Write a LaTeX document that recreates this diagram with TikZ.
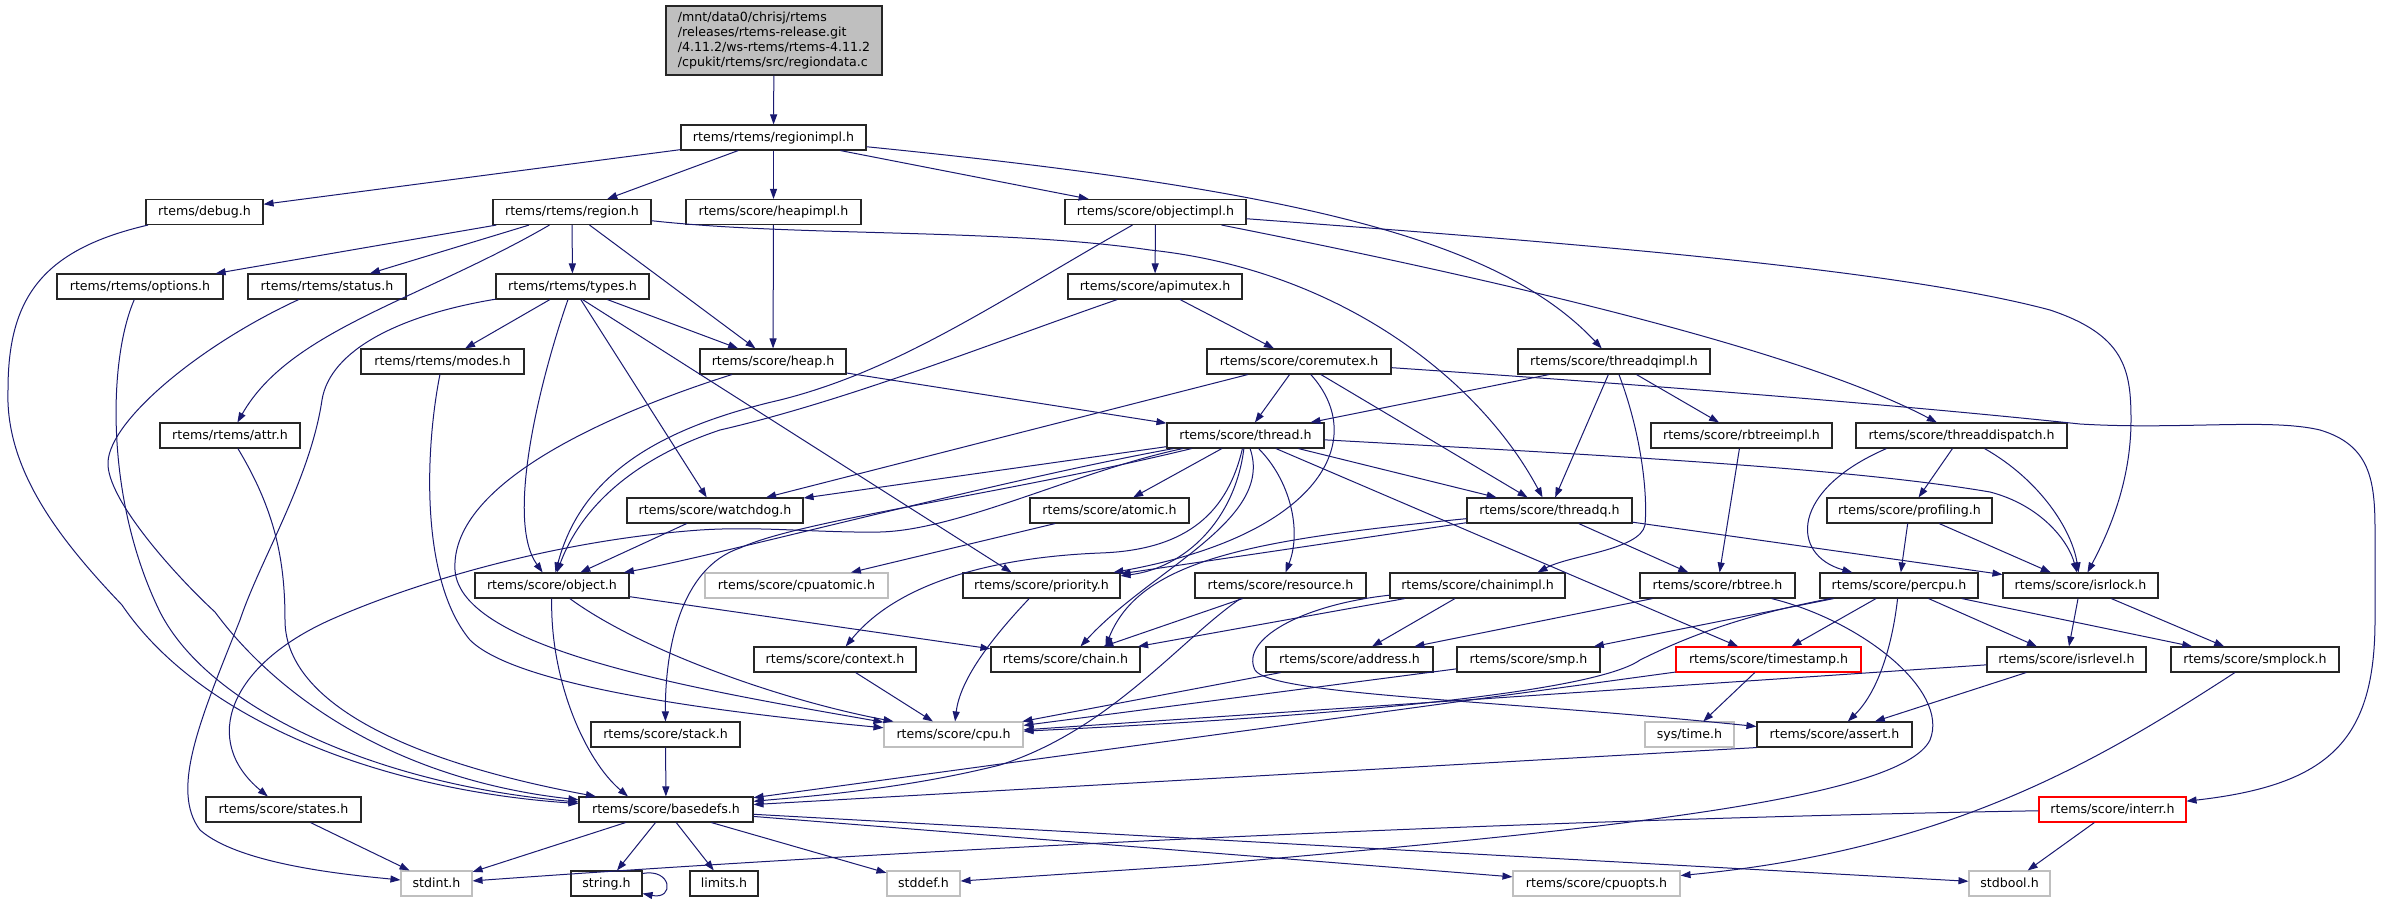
\documentclass[tikz,border=0pt]{standalone}
\usepackage{fontspec}
\newfontfamily\dvs{DejaVu Sans}
\usetikzlibrary{arrows.meta}
\definecolor{edgeblue}{HTML}{191970}
\definecolor{lgray}{HTML}{BFBFBF}
\begin{document}
\begin{tikzpicture}[x=1pt,y=-1pt,
  nd/.style={draw=black!85, line width=1.1pt, fill=white, inner sep=0pt, minimum height=25pt,
    text height=9.6pt, text depth=2.6pt, font=\dvs\fontsize{12.6pt}{14.7pt}\selectfont},
  sysnd/.style={nd, draw=lgray},
  rednd/.style={nd, draw=red},
  topnd/.style={draw=black!85, line width=1.1pt, fill=lgray, inner sep=0pt, align=left,
    font=\dvs\fontsize{12.6pt}{14.7pt}\selectfont},
  dep/.style={draw=edgeblue, line width=1pt, -{Triangle[length=10pt,width=7pt]}}]
\useasboundingbox (0,0) rectangle (2382,903);
\fill[white] (0,0) rectangle (2382,903);

% ---------- nodes ----------
\node[topnd, minimum width=216pt, minimum height=69pt] (top) at (774,40.5)
  {/mnt/data0/chrisj/rtems\\/releases/rtems-release.git\\/4.11.2/ws-rtems/rtems-4.11.2\\/cpukit/rtems/src/regiondata.c};
\node[nd, minimum width=185pt] (ri) at (773.5,137.5) {rtems/rtems/regionimpl.h};
\node[nd, minimum width=117pt] (debug) at (204.5,212) {rtems/debug.h};
\node[nd, minimum width=158pt] (region) at (572,212) {rtems/rtems/region.h};
\node[nd, minimum width=175pt] (heapimpl) at (773.5,212) {rtems/score/heapimpl.h};
\node[nd, minimum width=181pt] (oi) at (1155.5,212) {rtems/score/objectimpl.h};
\node[nd, minimum width=166pt] (options) at (140,286.5) {rtems/rtems/options.h};
\node[nd, minimum width=158pt] (status) at (327,286.5) {rtems/rtems/status.h};
\node[nd, minimum width=153pt] (types) at (572.5,286.5) {rtems/rtems/types.h};
\node[nd, minimum width=174pt] (apimutex) at (1155,286.5) {rtems/score/apimutex.h};
\node[nd, minimum width=163pt] (modes) at (442.5,361.5) {rtems/rtems/modes.h};
\node[nd, minimum width=146pt] (heap) at (773,361.5) {rtems/score/heap.h};
\node[nd, minimum width=184pt] (coremutex) at (1299,361.5) {rtems/score/coremutex.h};
\node[nd, minimum width=192pt] (tqi) at (1614,361.5) {rtems/score/threadqimpl.h};
\node[nd, minimum width=140pt] (attr) at (230,435.5) {rtems/rtems/attr.h};
\node[nd, minimum width=157pt] (thread) at (1245.5,435.5) {rtems/score/thread.h};
\node[nd, minimum width=181pt] (rbi) at (1741.5,435.5) {rtems/score/rbtreeimpl.h};
\node[nd, minimum width=211pt] (tdisp) at (1961.5,435.5) {rtems/score/threaddispatch.h};
\node[nd, minimum width=176pt] (watchdog) at (715,510.5) {rtems/score/watchdog.h};
\node[nd, minimum width=159pt] (atomic) at (1109.5,510.5) {rtems/score/atomic.h};
\node[nd, minimum width=165pt] (threadq) at (1549.5,510.5) {rtems/score/threadq.h};
\node[nd, minimum width=165pt] (profiling) at (1909.5,510.5) {rtems/score/profiling.h};
\node[nd, minimum width=154pt] (object) at (552,585.5) {rtems/score/object.h};
\node[sysnd, minimum width=183pt] (cpuatomic) at (796.5,585.5) {rtems/score/cpuatomic.h};
\node[nd, minimum width=157pt] (priority) at (1041.5,585.5) {rtems/score/priority.h};
\node[nd, minimum width=171pt] (resource) at (1280.5,585.5) {rtems/score/resource.h};
\node[nd, minimum width=175pt] (chainimpl) at (1477.5,585.5) {rtems/score/chainimpl.h};
\node[nd, minimum width=155pt] (rbtree) at (1717.5,585.5) {rtems/score/rbtree.h};
\node[nd, minimum width=158pt] (percpu) at (1899,585.5) {rtems/score/percpu.h};
\node[nd, minimum width=155pt] (isrlock) at (2080.5,585.5) {rtems/score/isrlock.h};
\node[nd, minimum width=162pt] (context) at (835,659.5) {rtems/score/context.h};
\node[nd, minimum width=149pt] (chain) at (1065.5,659.5) {rtems/score/chain.h};
\node[nd, minimum width=167pt] (address) at (1349.5,659.5) {rtems/score/address.h};
\node[nd, minimum width=143pt] (smp) at (1528.5,659.5) {rtems/score/smp.h};
\node[rednd, minimum width=185pt] (timestamp) at (1768.5,659.5) {rtems/score/timestamp.h};
\node[nd, minimum width=159pt] (isrlevel) at (2066.5,659.5) {rtems/score/isrlevel.h};
\node[nd, minimum width=168pt] (smplock) at (2255,659.5) {rtems/score/smplock.h};
\node[nd, minimum width=149pt] (stack) at (665.5,734.5) {rtems/score/stack.h};
\node[sysnd, minimum width=139pt] (cpu) at (953.5,734.5) {rtems/score/cpu.h};
\node[sysnd, minimum width=89pt] (systime) at (1689.5,734.5) {sys/time.h};
\node[nd, minimum width=155pt] (assert) at (1834.5,734.5) {rtems/score/assert.h};
\node[nd, minimum width=155pt] (states) at (283.5,809.5) {rtems/score/states.h};
\node[nd, minimum width=174pt] (basedefs) at (666,809.5) {rtems/score/basedefs.h};
\node[rednd, minimum width=147pt] (interr) at (2112.5,809.5) {rtems/score/interr.h};
\node[sysnd, minimum width=71pt] (stdint) at (436.5,883.5) {stdint.h};
\node[nd, minimum width=71pt] (string) at (606.5,883.5) {string.h};
\node[nd, minimum width=68pt] (limits) at (724,883.5) {limits.h};
\node[sysnd, minimum width=73pt] (stddef) at (923.5,883.5) {stddef.h};
\node[sysnd, minimum width=167pt] (cpuopts) at (1596.5,883.5) {rtems/score/cpuopts.h};
\node[sysnd, minimum width=81pt] (stdbool) at (2009.5,883.5) {stdbool.h};

% ---------- edges ----------
\draw[dep] (top) -- (ri);
\draw[dep] (ri) -- (debug);
\draw[dep] (ri) -- (region);
\draw[dep] (ri) -- (heapimpl);
\draw[dep] (ri) -- (oi);
\draw[dep] (ri) .. controls (1300,190) and (1500,240) .. (tqi);

\draw[dep] (region) -- (options);
\draw[dep] (region) -- (status);
\draw[dep] (region) -- (types);
\draw[dep] (region) .. controls (420,300) and (290,330) .. (attr);
\draw[dep] (region) -- (heap);
\draw[dep] (region) .. controls (800,237) and (1000,228) .. (1150,250) .. controls (1340,270) and (1480,380) .. (threadq);

\draw[dep] (heapimpl) -- (heap);

\draw[dep] (oi) -- (apimutex);
\draw[dep] (oi) .. controls (1000,300) and (900,370) .. (780,400) .. controls (650,430) and (580,480) .. (object);
\draw[dep] (oi) .. controls (1500,280) and (1800,350) .. (tdisp);
\draw[dep] (oi) .. controls (1600,245) and (1900,270) .. (2050,310) .. controls (2125,335) and (2131,370) .. (2131,420) .. controls (2131,480) and (2110,530) .. (isrlock);

\draw[dep] (apimutex) -- (coremutex);
\draw[dep] (apimutex) .. controls (1000,340) and (850,400) .. (720,430) .. controls (630,460) and (580,510) .. (object);

\draw[dep] (types) -- (modes);
\draw[dep] (types) .. controls (540,380) and (505,520) .. (object);
\draw[dep] (types) -- (watchdog);
\draw[dep] ([xshift=10pt]types.south) -- ([xshift=-30pt]priority.north);
\draw[dep] (types) .. controls (400,315) and (330,350) .. (322,400) .. controls (310,480) and (260,560) .. (240,620) .. controls (200,720) and (170,790) .. (200,830) .. controls (240,865) and (350,875) .. (stdint);
\draw[dep] (types) -- (heap);

\draw[dep] (modes) .. controls (425,450) and (420,580) .. (470,640) .. controls (520,690) and (750,715) .. (cpu);
\draw[dep] (heap) .. controls (620,410) and (450,480) .. (455,570) .. controls (460,650) and (700,690) .. (cpu);
\draw[dep] (heap) -- (thread);

\draw[dep] (coremutex) -- (thread);
\draw[dep] (coremutex) -- (threadq);
\draw[dep] (coremutex) -- (watchdog);
\draw[dep] (coremutex) .. controls (1370,440) and (1320,535) .. (priority);
\draw[dep] (coremutex) .. controls (1650,385) and (1900,405) .. (2080,424) .. controls (2180,430) and (2270,418) .. (2320,430) .. controls (2370,445) and (2375,480) .. (2375,530) -- (2375,620) .. controls (2375,740) and (2330,785) .. (interr);

\draw[dep] (tqi) -- (thread);
\draw[dep] (tqi) -- (threadq);
\draw[dep] (tqi) .. controls (1640,430) and (1648,490) .. (1645,525) .. controls (1640,550) and (1570,555) .. ([xshift=60pt]chainimpl.north);
\draw[dep] (tqi) -- (rbi);
\draw[dep] (rbi) -- (rbtree);

\draw[dep] (thread) -- (watchdog);
\draw[dep] (thread) .. controls (1080,470) and (960,530) .. (880,532) .. controls (820,533) and (760,526) .. (700,530) .. controls (560,540) and (420,580) .. (330,620) .. controls (230,665) and (200,740) .. (states);
\draw[dep] (thread) .. controls (1000,480) and (720,555) .. (object);
\draw[dep] (thread) .. controls (1000,495) and (800,520) .. (740,548) .. controls (680,568) and (665,650) .. (stack);
\draw[dep] (thread) -- (atomic);
\draw[dep] (thread) .. controls (1228,510) and (1190,550) .. (1100,553) .. controls (1000,557) and (900,580) .. (context);
\draw[dep] (thread) .. controls (1275,520) and (1150,570) .. ([xshift=15pt]chain.north);
\draw[dep] (thread) .. controls (1235,520) and (1185,568) .. (priority);
\draw[dep] (thread) .. controls (1290,480) and (1302,530) .. (resource);
\draw[dep] (thread) -- (timestamp);
\draw[dep] (thread) -- (threadq);
\draw[dep] (thread) .. controls (1600,455) and (1850,468) .. (1990,492) .. controls (2040,505) and (2068,540) .. (isrlock);

\draw[dep] ([xshift=-75pt]tdisp.south) .. controls (1790,490) and (1790,555) .. (percpu);
\draw[dep] (tdisp) -- (profiling);
\draw[dep] (tdisp) .. controls (2040,480) and (2072,530) .. (isrlock);
\draw[dep] (profiling) -- (percpu);
\draw[dep] (profiling) -- (isrlock);

\draw[dep] (threadq) -- (priority);
\draw[dep] (threadq) .. controls (1250,540) and (1140,560) .. ([xshift=40pt]chain.north);
\draw[dep] (threadq) -- (rbtree);
\draw[dep] (threadq) -- (isrlock);

\draw[dep] (watchdog) -- (object);
\draw[dep] (atomic) -- (cpuatomic);

\draw[dep] (object) -- (chain);
\draw[dep] (object) .. controls (640,650) and (780,700) .. ([xshift=-60pt]cpu.north);
\draw[dep] (object) .. controls (550,680) and (585,760) .. ([xshift=-38pt]basedefs.north);

\draw[dep] (priority) .. controls (990,640) and (960,680) .. (cpu);
\draw[dep] (resource) -- (chain);
\draw[dep] ([xshift=-40pt]resource.south) .. controls (1180,640) and (1110,730) .. (1000,765) .. controls (900,790) and (800,797) .. (basedefs);

\draw[dep] (chainimpl) -- (chain);
\draw[dep] (chainimpl) -- (address);
\draw[dep] (chainimpl) .. controls (1300,605) and (1240,640) .. (1255,670) .. controls (1270,695) and (1500,700) .. (assert);

\draw[dep] (rbtree) -- (address);
\draw[dep] (rbtree) .. controls (1860,620) and (1950,690) .. (1930,740) .. controls (1900,800) and (1600,830) .. (1200,865) -- (stddef);

\draw[dep] (percpu) -- (smp);
\draw[dep] (percpu) .. controls (1760,612) and (1700,630) .. (1640,660) .. controls (1590,695) and (1300,718) .. (cpu);
\draw[dep] (percpu) -- (timestamp);
\draw[dep] (percpu) .. controls (1893,640) and (1880,690) .. (assert);
\draw[dep] (percpu) -- (isrlevel);
\draw[dep] (percpu) -- (smplock);

\draw[dep] (isrlock) -- (isrlevel);
\draw[dep] (isrlock) -- (smplock);

\draw[dep] (context) -- (cpu);
\draw[dep] (address) -- (cpu);
\draw[dep] (smp) -- (cpu);
\draw[dep] (timestamp) -- (systime);
\draw[dep] (timestamp) -- (basedefs);
\draw[dep] (isrlevel) -- (cpu);
\draw[dep] (isrlevel) -- (assert);
\draw[dep] (smplock) .. controls (2100,760) and (1950,850) .. (cpuopts);

\draw[dep] (stack) -- (basedefs);
\draw[dep] (assert.south west) -- (basedefs);
\draw[dep] (interr) -- (stdbool);
\draw[dep] (interr) .. controls (1500,820) and (900,850) .. (stdint);

\draw[dep] (debug) .. controls (40,250) and (8,300) .. (8,390) .. controls (5,470) and (60,540) .. (122,605) .. controls (200,720) and (380,790) .. (basedefs);
\draw[dep] (options) .. controls (108,360) and (105,500) .. (160,612) .. controls (210,710) and (380,785) .. (basedefs);
\draw[dep] (status) .. controls (200,345) and (110,420) .. (108,462) .. controls (106,500) and (180,580) .. (215,612) .. controls (280,700) and (400,780) .. (basedefs);
\draw[dep] (attr) .. controls (275,510) and (285,560) .. (285,620) .. controls (285,700) and (400,760) .. (basedefs);

\draw[dep] (states) -- (stdint);
\draw[dep] (basedefs) -- (stdint);
\draw[dep] (basedefs) -- (string);
\draw[dep] (basedefs) -- (limits);
\draw[dep] (basedefs) -- (stddef);
\draw[dep] (basedefs) -- (cpuopts);
\draw[dep] (basedefs) -- (stdbool);
\draw[dep] ([yshift=-3pt]string.north east) .. controls (672,868) and (675,900) .. ([yshift=3pt]string.south east);
\end{tikzpicture}
\end{document}
